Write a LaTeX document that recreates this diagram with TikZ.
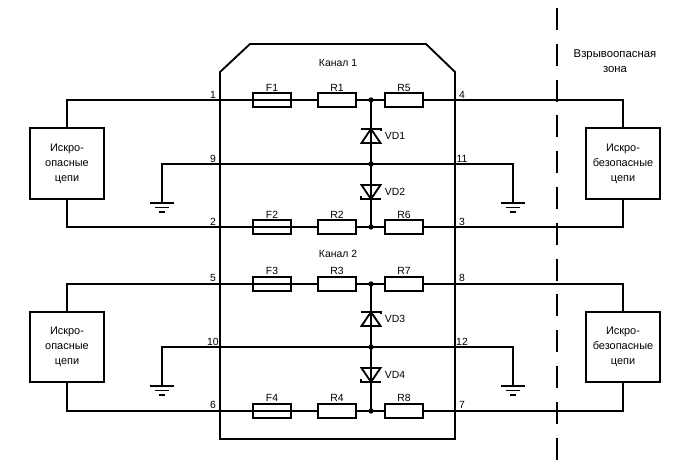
\documentclass[tikz,border=0pt]{standalone}
\usepackage{fontspec}
\setmainfont{Liberation Sans}
\usetikzlibrary{shapes,arrows}

\tikzset{
  wire/.style={line width=1.4pt},
  part/.style={fill=white, rectangle, draw, line width=1.4pt, minimum width=28pt,
    minimum height=11pt, inner sep=0pt},
  circuit/.style={fill=white, rectangle, draw, line width=1.4pt, minimum width=55.5pt,
    minimum height=53pt, inner sep=0pt, align=center, font=\fontsize{8.2}{11.3}\selectfont},
  dot/.style={circle, fill=black, minimum size=4pt, inner sep=0pt},
  lbl/.style={inner sep=0pt, font=\fontsize{7.8}{9}\selectfont},
  earth/.pic={
    \draw[wire] (-12,0) -- (12,0);
    \draw[wire] (-7,4.5) -- (7,4.5);
    \draw[wire] (-3,9) -- (3,9);
  },
  diodeup/.pic={
    \draw[wire, line join=miter] (-9.5,7) -- (9.5,7) -- (0,-7) -- cycle;
    \draw[wire] (-10,-7) -- (10,-7) -- (10,-4.5);
  },
  diodedown/.pic={
    \draw[wire, line join=miter] (-9.5,-7) -- (9.5,-7) -- (0,7) -- cycle;
    \draw[wire] (10,7) -- (-10,7) -- (-10,4.5);
  }
}

\begin{document}
\begin{tikzpicture}[x=0.75pt, y=-0.75pt]
\useasboundingbox (0,0) rectangle (690,470);

% housing
\draw[wire, line join=miter] (220,72) -- (250,44) -- (426,44) -- (455,72) -- (455,439) -- (220,439) -- cycle;

% zone border
\draw[line width=1.5pt, dash pattern=on 16.5pt off 10.35pt] (557,8) -- (557,460);

% left and right circuits
\node[circuit] (a1) at (67,163.5) {Искро-\\опасные\\цепи};
\node[circuit] (b1) at (623,163.5) {Искро-\\безопасные\\цепи};
\node[circuit] (a2) at (67,347) {Искро-\\опасные\\цепи};
\node[circuit] (b2) at (623,347) {Искро-\\безопасные\\цепи};

% channel 1
\coordinate (j1) at (371,100);
\coordinate (j2) at (371,164);
\coordinate (j3) at (371,227);
\coordinate (g1) at (162,203);
\coordinate (g2) at (513,203);

\draw[wire] (a1.north) |- (j1) -- (j2) -- (j3);
\draw[wire] (j1) -| (b1.north);
\draw[wire] (a1.south) |- (j3) -| (b1.south);
\draw[wire] (g1) |- (j2) -| (g2);
\pic at (g1) {earth};
\pic at (g2) {earth};

\node[part] (f1) at (272,100) {};
\node[part] (r1) at (337,100) {};
\node[part] (r5) at (404,100) {};
\node[part] (f2) at (272,227) {};
\node[part] (r2) at (337,227) {};
\node[part] (r6) at (404,227) {};
\draw[wire] (f1.west) -- (f1.east);
\draw[wire] (f2.west) -- (f2.east);
\node[dot] (d1) at (j1) {};
\node[dot] (d2) at (j2) {};
\node[dot] (d3) at (j3) {};
\pic at (371,136) {diodeup};
\pic at (371,192) {diodedown};

% channel 2
\coordinate (j4) at (371,284);
\coordinate (j5) at (371,347);
\coordinate (j6) at (371,411);
\coordinate (g3) at (162,386);
\coordinate (g4) at (513,386);

\draw[wire] (a2.north) |- (j4) -- (j5) -- (j6);
\draw[wire] (j4) -| (b2.north);
\draw[wire] (a2.south) |- (j6) -| (b2.south);
\draw[wire] (g3) |- (j5) -| (g4);
\pic at (g3) {earth};
\pic at (g4) {earth};

\node[part] (f3) at (272,284) {};
\node[part] (r3) at (337,284) {};
\node[part] (r7) at (404,284) {};
\node[part] (f4) at (272,411) {};
\node[part] (r4) at (337,411) {};
\node[part] (r8) at (404,411) {};
\draw[wire] (f3.west) -- (f3.east);
\draw[wire] (f4.west) -- (f4.east);
\node[dot] (d4) at (j4) {};
\node[dot] (d5) at (j5) {};
\node[dot] (d6) at (j6) {};
\pic at (371,319) {diodeup};
\pic at (371,375) {diodedown};

% labels
\node[lbl] (k1) at (338,63) {Канал 1};
\node[lbl] (k2) at (338,254) {Канал 2};
\node[lbl, align=center, font=\fontsize{8.5}{11.3}\selectfont] (zone) at (615,61.5) {Взрывоопасная\\зона};

\node[lbl] at (272,88) {F1};
\node[lbl] at (337,88) {R1};
\node[lbl] at (404,88) {R5};
\node[lbl] at (272,215) {F2};
\node[lbl] at (337,215) {R2};
\node[lbl] at (404,215) {R6};
\node[lbl] at (272,271) {F3};
\node[lbl] at (337,271) {R3};
\node[lbl] at (404,271) {R7};
\node[lbl] at (272,398) {F4};
\node[lbl] at (337,398) {R4};
\node[lbl] at (404,398) {R8};

\node[lbl] at (395,136) {VD1};
\node[lbl] at (395,192) {VD2};
\node[lbl] at (395,319) {VD3};
\node[lbl] at (395,375) {VD4};

\node[lbl] at (213,95) {1};
\node[lbl] at (213,159) {9};
\node[lbl] at (213,222) {2};
\node[lbl] at (462,95) {4};
\node[lbl] at (462,159) {11};
\node[lbl] at (462,222) {3};
\node[lbl] at (213,278) {5};
\node[lbl] at (213,342) {10};
\node[lbl] at (213,405) {6};
\node[lbl] at (462,278) {8};
\node[lbl] at (462,342) {12};
\node[lbl] at (462,405) {7};

\end{tikzpicture}
\end{document}
